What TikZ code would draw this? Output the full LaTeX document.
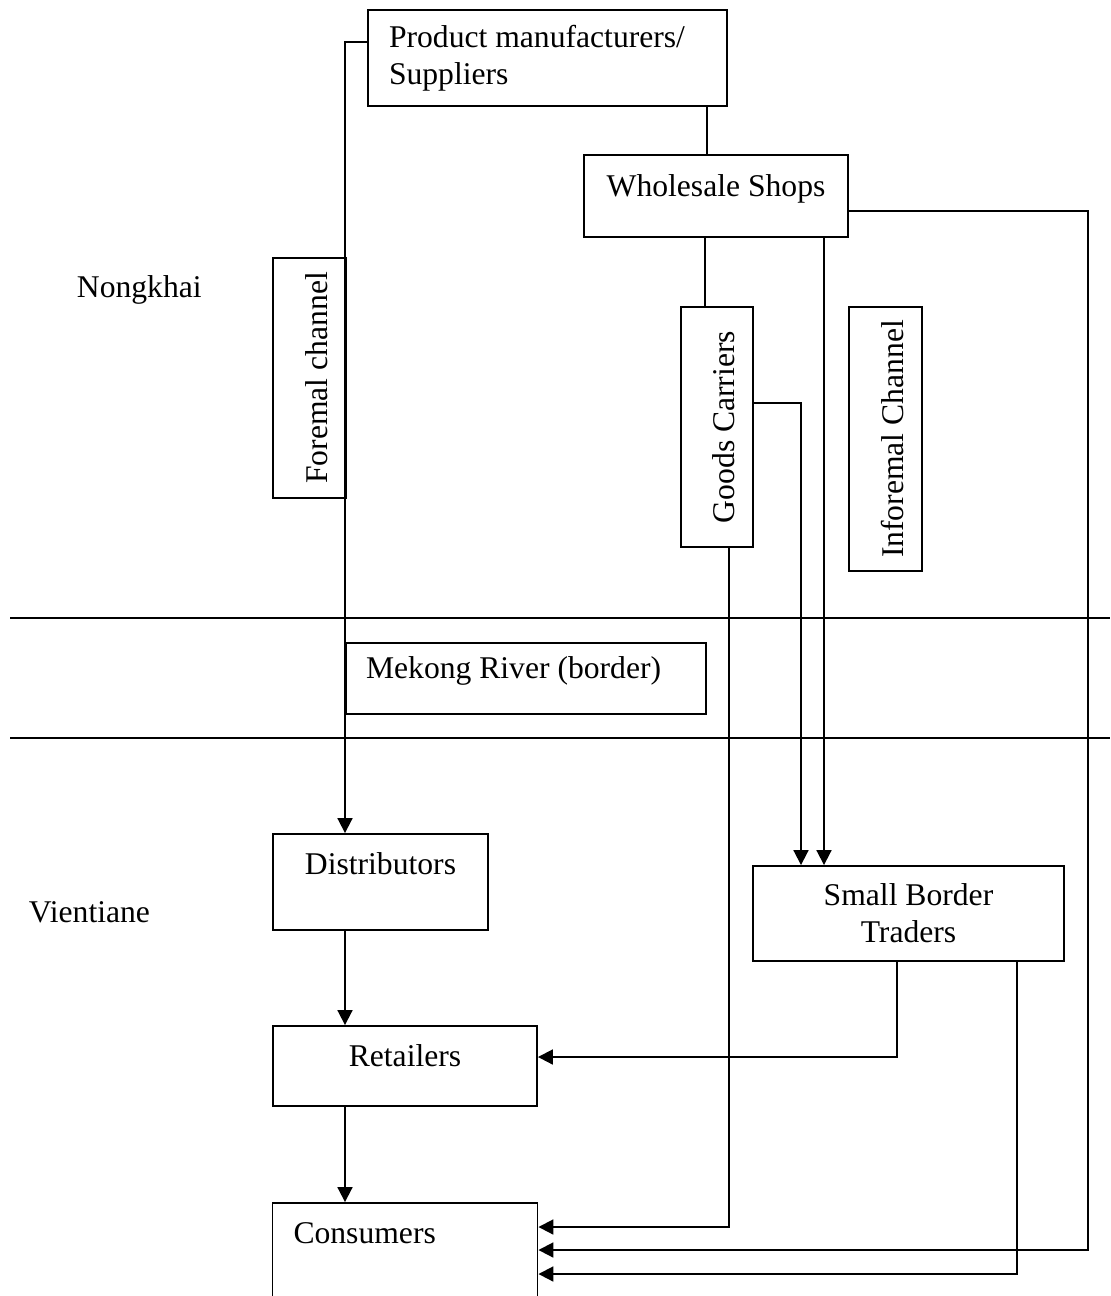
\documentclass[tikz,border=0pt]{standalone}
\usepackage{fontspec}
\setmainfont{Liberation Serif}
\usetikzlibrary{arrows.meta}

\begin{document}
\begin{tikzpicture}[x=0.02cm, y=-0.02cm, line width=1.1pt,
    >={Triangle[length=8.5pt,width=8.5pt]},
    font=\fontsize{18}{21}\selectfont,
    box/.style={draw, inner sep=0pt, text height=12pt, text depth=12pt},
    tallbox/.style={draw, inner sep=0pt, rotate=90, text height=20pt, text depth=0pt},
    twoline/.style={draw, inner sep=0pt}]
    \useasboundingbox (0,0) rectangle (1110,1296);
    \foreach \y in {618,738}
      \draw (10,\y) -- (1110,\y);

    \node[anchor=base west, inner sep=0pt] (nong) at (76,297) {Nongkhai};
    \node[anchor=base west, inner sep=0pt] (vien) at (28,922) {Vientiane};

    \node[twoline, minimum height=1.92cm, inner xsep=0.42cm, text width=6.34cm, align=flush left] (prod) at (547.5,58) {Product manufacturers/\\Suppliers};
    \node[box, minimum width=5.28cm, minimum height=1.64cm] (whole) at (716,196) {Wholesale Shops};
    \node[tallbox, minimum width=4.8cm, minimum height=1.46cm] (formal) at (309.5,378) {Foremal channel};
    \node[tallbox, minimum width=4.8cm, minimum height=1.44cm] (goods) at (717,427) {Goods Carriers};
    \node[tallbox, minimum width=5.28cm, minimum height=1.46cm] (informal) at (885.5,439) {Inforemal Channel};
    \node[box, minimum height=1.42cm, inner xsep=0.4cm, text width=6.4cm, align=flush left] (mekong) at (526,678.5) {Mekong River (border)};
    \node[box, text depth=20pt, minimum width=4.3cm, minimum height=1.92cm] (dist) at (380.5,882) {Distributors};
    \node[twoline, minimum width=6.22cm, minimum height=1.9cm, align=center] (sbt) at (908.5,913.5) {Small Border\\Traders};
    \node[box, minimum width=5.28cm, minimum height=1.6cm] (ret) at (405,1066) {Retailers};
    \node[box, text depth=33pt, minimum height=2.34cm, inner xsep=0.42cm, text width=4.46cm, align=flush left] (cons) at (405,1261.5) {Consumers};

    \coordinate (fc) at (345,42);
    \coordinate (pw) at (707,0);
    \coordinate (wg) at (705,0);
    \coordinate (ws) at (824,0);
    \coordinate (gs) at (801,403);
    \coordinate (wctop) at (1088,211);
    \coordinate (wcbot) at (1088,1250);
    \coordinate (gc) at (729,1227);
    \coordinate (sr) at (897,1057);
    \coordinate (sc) at (1017,1274);

    \draw[->] (prod.west |- fc) -| (dist.north -| fc);
    \draw (prod.south -| pw) -- (whole.north -| pw);
    \draw (whole.south -| wg) -- (goods.east -| wg);
    \draw[->] (whole.south -| ws) -- (sbt.north -| ws);
    \draw[->] (goods.south |- gs) -| (sbt.north -| gs);
    \draw[->] (whole.east |- wctop) -| (wcbot) -- (cons.east |- wcbot);
    \draw[->] (goods.west -| gc) |- (cons.east |- gc);
    \draw[->] (sbt.south -| sr) |- (ret.east |- sr);
    \draw[->] (sbt.south -| sc) |- (cons.east |- sc);
    \draw[->] (dist.south -| fc) -- (ret.north -| fc);
    \draw[->] (ret.south -| fc) -- (cons.north -| fc);
\end{tikzpicture}
\end{document}
